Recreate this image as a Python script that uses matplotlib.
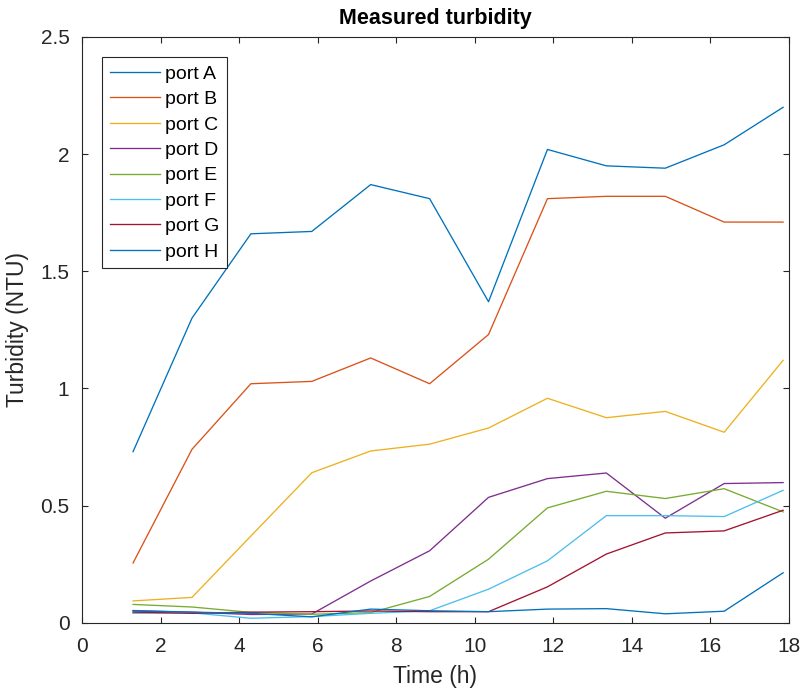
import matplotlib
matplotlib.use("Agg")
import matplotlib.pyplot as plt

time_h = [1.3, 2.8, 4.3, 5.85, 7.35, 8.85, 10.35, 11.85, 13.35, 14.85, 16.35, 17.85]
port_a = [0.73, 1.30, 1.66, 1.67, 1.87, 1.81, 1.37, 2.02, 1.95, 1.94, 2.04, 2.20]
port_b = [0.255, 0.74, 1.02, 1.03, 1.13, 1.02, 1.23, 1.81, 1.82, 1.82, 1.71, 1.71]
port_c = [0.093, 0.108, 0.37, 0.64, 0.733, 0.762, 0.831, 0.958, 0.875, 0.902, 0.813, 1.12]
port_d = [0.05, 0.045, 0.035, 0.037, 0.178, 0.307, 0.535, 0.615, 0.639, 0.446, 0.594, 0.598]
port_e = [0.078, 0.067, 0.044, 0.036, 0.043, 0.112, 0.271, 0.49, 0.561, 0.53, 0.572, 0.473]
port_f = [0.040, 0.042, 0.019, 0.026, 0.04, 0.051, 0.143, 0.264, 0.457, 0.457, 0.453, 0.565]
port_g = [0.045, 0.04, 0.045, 0.047, 0.05, 0.047, 0.047, 0.153, 0.293, 0.383, 0.392, 0.48]
port_h = [0.052, 0.045, 0.04, 0.025, 0.058, 0.051, 0.047, 0.058, 0.06, 0.038, 0.049, 0.213]

series = [port_a, port_b, port_c, port_d, port_e, port_f, port_g, port_h]
labels = ["port A", "port B", "port C", "port D", "port E", "port F", "port G", "port H"]
colors = [(0, 0.447, 0.741), (0.85, 0.325, 0.098), (0.929, 0.694, 0.125),
          (0.494, 0.184, 0.556), (0.466, 0.674, 0.188), (0.301, 0.745, 0.933),
          (0.635, 0.078, 0.184), (0, 0.447, 0.741)]

x_ticks = list(range(0, 19, 2))
y_ticks = [0, 0.5, 1, 1.5, 2, 2.5]
y_ticklabels = ["0", "0.5", "1", "1.5", "2", "2.5"]

plt.rcParams['font.family'] = ['Liberation Sans', 'DejaVu Sans']
axcol = (0.15, 0.15, 0.15)

fig = plt.figure(figsize=(8.04, 6.92), dpi=100)
ax = fig.add_axes([82 / 804, 1 - 622.7 / 692, (789 - 82) / 804, (622.7 - 37) / 692])

for ys, lab, c in zip(series, labels, colors):
    ax.plot(time_h, ys, color=c, lw=0.95, label=lab)

ax.set_xlim(0, 18)
ax.set_ylim(0, 2.5)
ax.set_xticks(x_ticks)
ax.set_xticklabels([str(t) for t in x_ticks])
ax.set_yticks(y_ticks)
ax.set_yticklabels(y_ticklabels)
ax.tick_params(direction='in', top=True, right=True, length=4.5, width=0.8,
               labelsize=15, colors=axcol)
ax.tick_params(axis='x', pad=10)
ax.tick_params(axis='y', pad=9)
for s in ax.spines.values():
    s.set_color(axcol)
    s.set_linewidth(0.8)

ax.set_xlabel("Time (h)", fontsize=16.5, color=axcol, labelpad=7)
ax.set_ylabel("Turbidity (NTU)", fontsize=16.5, color=axcol, labelpad=8)
ax.set_title("Measured turbidity", fontsize=15.5, fontweight='bold', pad=9.5)

leg = ax.legend(loc='upper left', fontsize=14, handlelength=2.55, handletextpad=0.26,
                labelspacing=0.4, borderaxespad=1.05, borderpad=0.4,
                fancybox=False, framealpha=1, edgecolor=axcol)
leg.get_frame().set_linewidth(0.8)
for t in leg.get_texts():
    t.set_color('black')

fig.savefig("out.png", dpi=100)
